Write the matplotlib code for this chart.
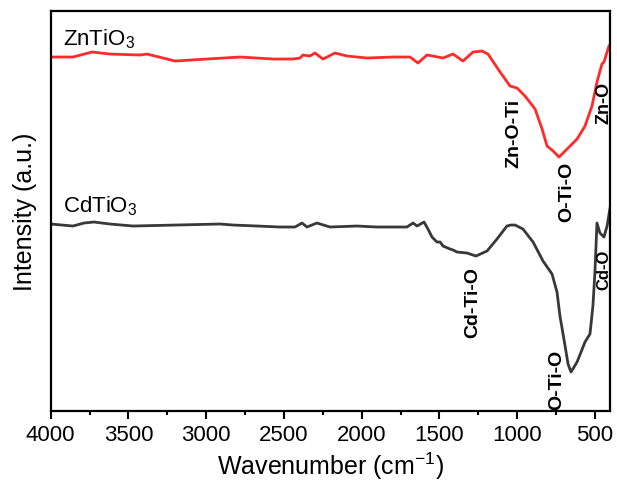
import matplotlib.pyplot as plt

plt.rcParams['font.family'] = ['Liberation Sans', 'DejaVu Sans']
plt.rcParams['axes.unicode_minus'] = False

# ZnTiO3 spectrum (wavenumber cm-1, intensity a.u.)
zn_wn = [4000, 3857, 3734, 3619, 3426, 3381, 3201, 2995, 2783, 2571, 2442, 2397,
         2378, 2333, 2301, 2249, 2172, 2094, 1966, 1799, 1689, 1638, 1580, 1542,
         1477, 1413, 1349, 1284, 1226, 1188, 1110, 1046, 1001, 950, 885, 840,
         808, 769, 731, 679, 615, 564, 519, 487, 455, 442, 422, 410]
zn_int = [354, 354, 359, 357, 356, 357, 350, 352, 354, 352, 352, 353,
          356, 355, 358, 352, 358, 355, 353, 354, 354, 348, 356, 355,
          353, 357, 350, 359, 360, 357, 339, 325, 323, 315, 302, 282,
          265, 260, 254, 262, 272, 285, 305, 329, 347, 349, 359, 365]

# CdTiO3 spectrum
cd_wn = [4000, 3857, 3786, 3722, 3619, 3471, 2911, 2828, 2673, 2526, 2429, 2384,
         2352, 2288, 2204, 2031, 1902, 1709, 1670, 1644, 1599, 1574, 1548, 1516,
         1496, 1477, 1432, 1413, 1387, 1323, 1265, 1194, 1130, 1066, 1040, 1014,
         963, 898, 834, 776, 744, 725, 692, 673, 654, 615, 564, 532, 513, 500,
         487, 468, 442, 422, 403]
cd_int = [187, 185, 188, 189, 187, 185, 187, 186, 185, 184, 184, 188,
          184, 188, 184, 185, 184, 184, 188, 185, 189, 182, 174, 169,
          169, 165, 162, 161, 159, 158, 155, 160, 172, 185, 186, 186,
          182, 169, 150, 137, 119, 95, 65, 47, 39, 49, 69, 77, 105, 139,
          188, 178, 174, 185, 203]

# band assignments: (label, wavenumber, intensity, size)
bands = [('Zn-O-Ti', 1020, 279, 14),
         ('O-Ti-O', 680, 220, 14),
         ('Zn-O', 442, 309, 13),
         ('Cd-Ti-O', 1284, 110, 14),
         ('O-Ti-O', 744, 32, 14),
         ('Cd-O', 442, 142, 12)]

fig = plt.figure(figsize=(6.17, 4.85), dpi=100)
ax = fig.add_axes([0.0822, 0.1505, 0.9065, 0.8247])

ax.plot(zn_wn, zn_int, color='#ff2a2a', lw=2)
ax.plot(cd_wn, cd_int, color='#383838', lw=2)

ax.text(3921, 367, 'ZnTiO$\\mathregular{_3}$', fontsize=16)
ax.text(3921, 200, 'CdTiO$\\mathregular{_3}$', fontsize=16)

for label, x, y, size in bands:
    ax.text(x, y, label, rotation=90, ha='center', va='center',
            fontsize=size, fontweight='bold')

ax.set_xlim(4000, 403)
ax.set_ylim(0, 400)
ax.set_xticks([4000, 3500, 3000, 2500, 2000, 1500, 1000, 500])
ax.set_xticks(range(3750, 400, -500), minor=True)
ax.set_yticks([])
ax.tick_params(axis='x', which='major', direction='out', length=6, width=1.5,
               labelsize=16, pad=3)
ax.tick_params(axis='x', which='minor', direction='out', length=3, width=1.5)
for s in ax.spines.values():
    s.set_linewidth(1.6)

ax.set_xlabel('Wavenumber (cm$\\mathregular{^{-1}}$)', fontsize=18, labelpad=4)
ax.set_ylabel('Intensity (a.u.)', fontsize=18, labelpad=10)

fig.savefig('out.png', dpi=100)
